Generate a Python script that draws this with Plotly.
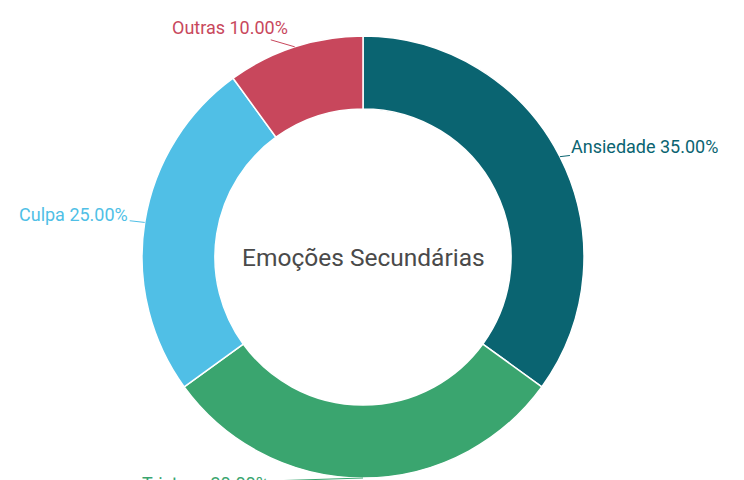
import math
import plotly.graph_objects as go

categories = ["Ansiedade", "Tristeza", "Culpa", "Outras"]
values = [35, 30, 25, 10]
colors = ["#0A6471", "#3AA56F", "#50BFE6", "#C8475C"]
center_title = "Emoções Secundárias"

W, H = 744, 480
m = dict(l=0, r=34, t=28, b=10)
pw = W - m["l"] - m["r"]
ph = H - m["t"] - m["b"]
R = min(pw, ph) / 2

fig = go.Figure(go.Pie(
    labels=categories, values=values, sort=False, direction="clockwise",
    rotation=0, hole=0.67, textinfo="none", hoverinfo="label+percent",
    marker=dict(colors=colors, line=dict(color="white", width=1.5)),
    showlegend=False,
))

# label offsets (pixels) from ring point to text centre
offsets = {"Ansiedade": (85, -10), "Tristeza": (-158, 5), "Culpa": (-71, -8), "Outras": (-65, -19)}
total = sum(values)
cum = 0
annotations = []
for cat, v, c in zip(categories, values, colors):
    mid = (cum + v / 2) / total * 2 * math.pi
    cum += v
    x = 0.5 + R * math.sin(mid) / pw
    y = 0.5 + R * math.cos(mid) / ph
    ax, ay = offsets[cat]
    annotations.append(dict(
        x=x, y=y, xref="paper", yref="paper", ax=ax, ay=ay,
        text=f"{cat} {v / total * 100:.2f}%", showarrow=True, arrowhead=0,
        arrowwidth=1, arrowcolor=c, font=dict(color=c, size=18, family="Roboto"),
    ))
annotations.append(dict(
    x=0.5, y=0.5, xref="paper", yref="paper", text=center_title, showarrow=False,
    font=dict(size=24.5, color="#4a4a4a", family="Roboto"),
))

fig.update_layout(
    width=W, height=H, margin=m, paper_bgcolor="white", plot_bgcolor="white",
    annotations=annotations, font=dict(family="Roboto"),
)
fig.write_html("out.html")
